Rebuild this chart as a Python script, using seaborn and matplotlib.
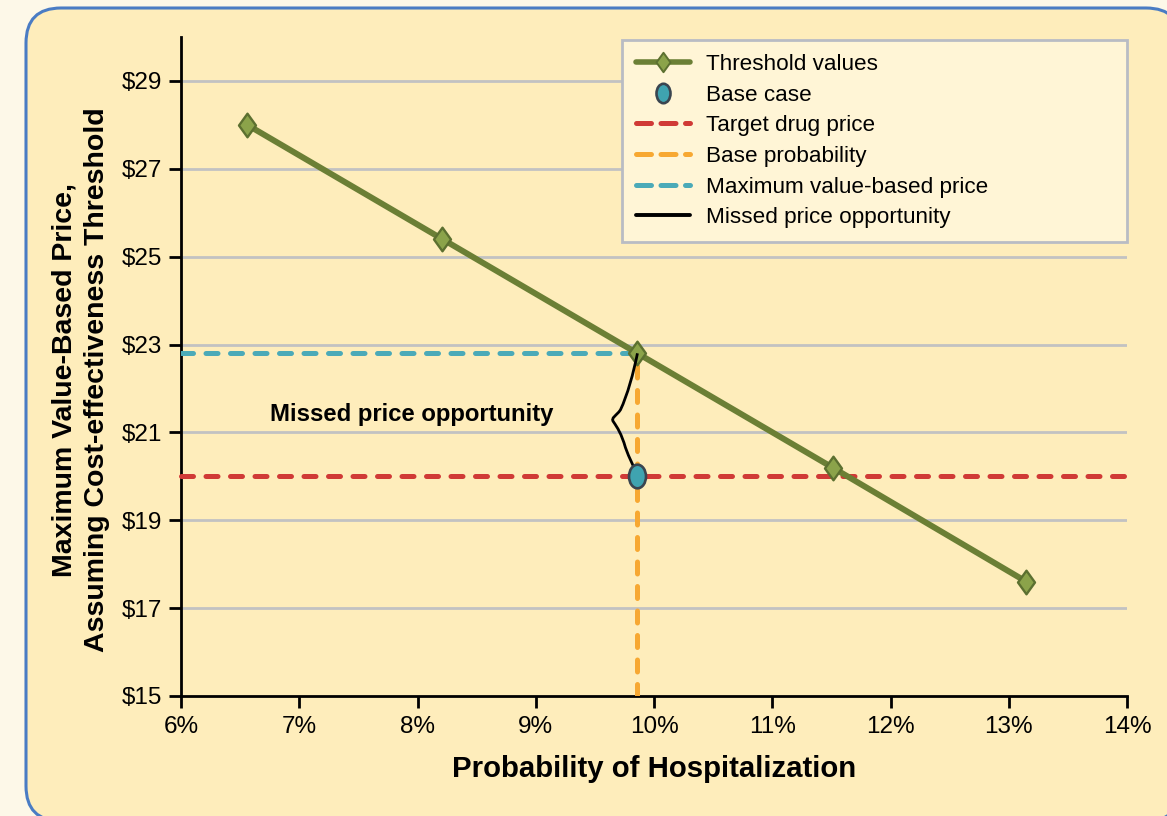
import numpy as np
import pandas as pd
import matplotlib
matplotlib.use("Agg")
import matplotlib.pyplot as plt
import seaborn as sns
from matplotlib.path import Path
from matplotlib.patches import FancyBboxPatch, PathPatch
from matplotlib.lines import Line2D

# ---- data ----
hosp_prob = [6.56, 8.21, 9.86, 11.51, 13.15]          # probability of hospitalization (%)
threshold_price = [28.0, 25.4, 22.8, 20.2, 17.6]      # max value-based price ($)
base_prob = 9.86
target_price = 20.0
max_value_price = 22.8
x_ticks = [6, 7, 8, 9, 10, 11, 12, 13, 14]
x_tick_labels = ["6%", "7%", "8%", "9%", "10%", "11%", "12%", "13%", "14%"]
y_ticks = [15, 17, 19, 21, 23, 25, 27, 29]
y_tick_labels = ["$15", "$17", "$19", "$21", "$23", "$25", "$27", "$29"]

# ---- style ----
sns.set_theme(style="white")
plt.rcParams["font.family"] = ["Liberation Sans", "DejaVu Sans"]
plt.rcParams["text.color"] = "black"
plt.rcParams["axes.labelcolor"] = "black"

GREEN = "#6B7F35"
GREEN_FILL = "#8BA34A"
TEAL = "#3FA3B0"
RED = "#D03A36"
ORANGE = "#F7A832"
CYAN = "#4BAAB8"
GRID = "#C2C2C2"

W, H = 1167, 816
fig = plt.figure(figsize=(W / 100, H / 100), dpi=100)
fig.patch.set_facecolor("#FDF8E8")

# rounded panel behind the chart (inch coordinates)
panel = FancyBboxPatch((0.26, -0.05), 11.81 - 0.26, (H - 8) / 100 + 0.05,
                       boxstyle="round,pad=0,rounding_size=0.35",
                       transform=fig.dpi_scale_trans, facecolor="#FEEDBB",
                       edgecolor="#4A7CC4", linewidth=2.2, zorder=-10)
fig.patches.append(panel)

ax = fig.add_axes([181 / W, 1 - 696 / H, (1127 - 181) / W, (696 - 37) / H])
ax.set_facecolor("none")
ax.set_xlim(6, 14)
ax.set_ylim(15, 30)

# horizontal grid at the labelled prices (above the baseline)
for yv in y_ticks[1:]:
    ax.axhline(yv, color=GRID, lw=2.0, zorder=1)

# dashed reference lines
dash = dict(lw=3.6, dash_capstyle="round")
ref = pd.DataFrame({"x": [6, 14.05], "y": [target_price, target_price]})
sns.lineplot(data=ref, x="x", y="y", ax=ax, color=RED, zorder=3, clip_on=False, **dash)
ax.lines[-1].set_dashes((2.4, 2.5))

ref = pd.DataFrame({"x": [6, base_prob], "y": [max_value_price, max_value_price]})
sns.lineplot(data=ref, x="x", y="y", ax=ax, color=CYAN, zorder=3, **dash)
ax.lines[-1].set_dashes((2.4, 2.5))

ax.plot([base_prob, base_prob], [15, max_value_price], color=ORANGE, zorder=3, **dash)
ax.lines[-1].set_dashes((2.4, 2.5))

# threshold line with diamond markers
diamond = Path([(0, 1), (0.72, 0), (0, -1), (-0.72, 0), (0, 1)],
               [Path.MOVETO, Path.LINETO, Path.LINETO, Path.LINETO, Path.CLOSEPOLY])
df = pd.DataFrame({"prob": hosp_prob, "price": threshold_price})
sns.lineplot(data=df, x="prob", y="price", ax=ax, color=GREEN, lw=4.3,
             marker=diamond, markersize=17, markerfacecolor=GREEN_FILL,
             markeredgecolor="#5C7030", markeredgewidth=1.7, zorder=4)

# brace marking the missed price opportunity
span = max_value_price - target_price
xs = 8.0 / 946.0          # % per pixel
ys = 1.0 / 44.0           # $ per pixel
verts_px = [(0, 0), (-4, 20), (-10, 42), (-17, 57),
            (-21, 63), (-27, 65), (-24, 69),
            (-20, 75), (-16, 81), (-12, 95),
            (-8, 106), (-4, 114), (-2, 118)]
scale = span / (124 * ys)
verts = [(base_prob + vx * xs, max_value_price - vy * ys * scale) for vx, vy in verts_px]
codes = [Path.MOVETO] + [Path.CURVE4] * 12
ax.add_patch(PathPatch(Path(verts, codes), facecolor="none", edgecolor="black",
                       lw=2.0, zorder=5))

# base case point
ell = Path.unit_circle()
ell = Path(ell.vertices * np.array([0.72, 1.0]), ell.codes)
sns.lineplot(x=[base_prob], y=[target_price], ax=ax, marker=ell, markersize=17,
             markerfacecolor=TEAL, markeredgecolor="#3A4550", markeredgewidth=1.9,
             lw=0, zorder=6)

ax.text(base_prob - 0.71, (max_value_price + target_price) / 2, "Missed price opportunity",
        ha="right", va="center", fontsize=17.2, fontweight="bold", zorder=6)

# axes styling
for s in ["top", "right"]:
    ax.spines[s].set_visible(False)
for s in ["left", "bottom"]:
    ax.spines[s].set_color("black")
    ax.spines[s].set_linewidth(2.0)
ax.set_xticks(x_ticks)
ax.set_xticklabels(x_tick_labels)
ax.set_yticks(y_ticks)
ax.set_yticklabels(y_tick_labels)
ax.tick_params(axis="both", direction="out", length=8.5, width=2.0, color="black",
               labelsize=17.5, labelcolor="black", bottom=True, left=True)
ax.tick_params(axis="y", pad=5)
ax.tick_params(axis="x", pad=6)
ax.set_xlabel("Probability of Hospitalization", fontsize=21.2, fontweight="bold",
              labelpad=12, color="black")
ax.set_ylabel("")
ax.grid(False)

fig.text(81 / W, 1 - 380 / H, "Maximum Value-Based Price,\nAssuming Cost-effectiveness Threshold",
         rotation=90, ha="center", va="center", multialignment="center",
         fontsize=20.5, fontweight="bold", linespacing=1.32, color="black",
         family=["Liberation Sans Narrow", "Liberation Sans", "DejaVu Sans"])

# legend
handles = [
    Line2D([], [], color=GREEN, lw=4.0, marker=diamond, markersize=14,
           markerfacecolor=GREEN_FILL, markeredgecolor="#5C7030", markeredgewidth=1.4),
    Line2D([], [], lw=0, marker=ell, markersize=14, markerfacecolor=TEAL,
           markeredgecolor="#3A4550", markeredgewidth=1.9),
    Line2D([], [], color=RED, dashes=(3.0, 1.9), **dash),
    Line2D([], [], color=ORANGE, dashes=(3.0, 1.9), **dash),
    Line2D([], [], color=CYAN, dashes=(3.0, 1.9), **dash),
    Line2D([], [], color="black", lw=2.8),
]
labels = ["Threshold values", "Base case", "Target drug price", "Base probability",
          "Maximum value-based price", "Missed price opportunity"]
x0 = (622 - 181) / 946
y1 = (696 - 40) / 659
y0 = (696 - 238) / 659
leg = ax.legend(handles, labels, loc="upper left", bbox_to_anchor=(x0, y0, 1 - x0, y1 - y0),
                mode="expand", borderaxespad=0, fontsize=16.2, handlelength=2.4,
                handletextpad=0.7, labelspacing=0.43, borderpad=0.62,
                frameon=True, fancybox=False, facecolor="#FFF5D6", edgecolor="#B9BCC4",
                framealpha=1)
leg.get_frame().set_linewidth(2.0)
leg.set_zorder(10)

fig.savefig("out.png", dpi=100, facecolor=fig.get_facecolor())
